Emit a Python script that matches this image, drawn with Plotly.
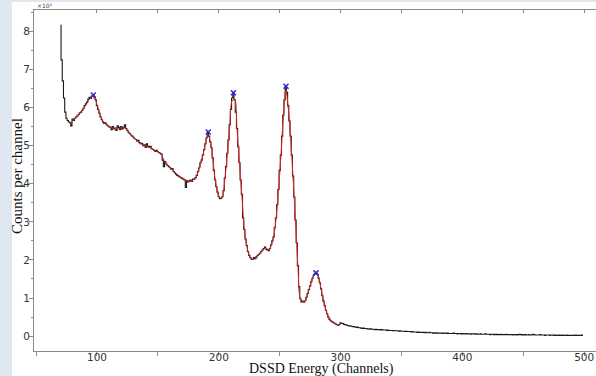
import plotly.graph_objects as go

# ---------------- data (counts per channel, in units of 10^2) ----------------
first_channel = 70
counts = [
    # 70-79
    8.16, 7.25, 6.70, 6.25, 5.88, 5.72, 5.66, 5.62, 5.60, 5.52,
    # 80-89
    5.70, 5.66, 5.72, 5.75, 5.78, 5.82, 5.86, 5.88, 5.93, 5.98,
    # 90-99
    6.05, 6.10, 6.15, 6.22, 6.27, 6.24, 6.30, 6.33, 6.26, 6.20,
    # 100-109
    6.05, 5.95, 5.85, 5.75, 5.68, 5.62, 5.58, 5.60, 5.55, 5.52,
    # 110-119
    5.50, 5.48, 5.42, 5.50, 5.44, 5.46, 5.40, 5.52, 5.48, 5.42,
    # 120-129
    5.50, 5.44, 5.48, 5.55, 5.45, 5.40, 5.35, 5.32, 5.28, 5.25,
    # 130-139
    5.22, 5.18, 5.16, 5.12, 5.14, 5.08, 5.05, 5.06, 5.00, 5.02,
    # 140-149
    4.95, 5.05, 4.98, 4.96, 4.98, 4.92, 4.90, 4.88, 4.85, 4.88,
    # 150-159
    4.84, 4.82, 4.80, 4.78, 4.62, 4.45, 4.58, 4.52, 4.48, 4.45,
    # 160-169
    4.42, 4.38, 4.40, 4.32, 4.28, 4.25, 4.22, 4.20, 4.18, 4.16,
    # 170-179
    4.14, 4.12, 4.10, 3.90, 4.08, 4.05, 4.08, 4.10, 4.06, 4.12,
    # 180-189
    4.12, 4.16, 4.22, 4.32, 4.42, 4.55, 4.62, 4.75, 4.90, 5.05,
    # 190-199
    5.20, 5.36, 5.25, 5.10, 4.95, 4.68, 4.35, 4.10, 3.92, 3.78,
    # 200-209
    3.66, 3.61, 3.62, 3.66, 3.82, 4.15, 4.45, 4.80, 5.15, 5.55,
    # 210-219
    5.95, 6.25, 6.39, 6.20, 5.88, 5.45, 4.97, 4.55, 4.10, 3.72,
    # 220-229
    3.10, 2.80, 2.55, 2.38, 2.22, 2.12, 2.06, 2.02, 2.01, 2.06,
    # 230-239
    2.03, 2.08, 2.12, 2.15, 2.18, 2.22, 2.26, 2.30, 2.34, 2.28,
    # 240-249
    2.26, 2.24, 2.30, 2.40, 2.50, 2.60, 2.85, 3.10, 3.45, 3.85,
    # 250-259
    4.35, 4.75, 5.25, 5.80, 6.20, 6.56, 6.40, 6.05, 5.65, 5.25,
    # 260-269
    4.75, 4.20, 3.65, 3.05, 2.45, 1.85, 1.30, 0.98, 0.90, 0.92,
    # 270-279
    0.89, 0.93, 1.02, 1.12, 1.22, 1.32, 1.43, 1.52, 1.60, 1.64,
    # 280-289
    1.66, 1.62, 1.52, 1.40, 1.24, 1.06, 0.92, 0.80, 0.68, 0.58,
    # 290-299
    0.50, 0.44, 0.40, 0.38, 0.36, 0.34, 0.32, 0.30, 0.29, 0.30,
    # 300-309
    0.35, 0.34, 0.33, 0.31, 0.30, 0.29, 0.28, 0.27, 0.27, 0.26,
    # 310-319
    0.25, 0.25, 0.24, 0.23, 0.24, 0.22, 0.22, 0.21, 0.20, 0.21,
    # 320-329
    0.20, 0.20, 0.19, 0.19, 0.18, 0.19, 0.18, 0.18, 0.17, 0.18,
    # 330-339
    0.17, 0.17, 0.17, 0.16, 0.17, 0.16, 0.16, 0.16, 0.15, 0.16,
    # 340-349
    0.15, 0.15, 0.15, 0.14, 0.15, 0.14, 0.14, 0.14, 0.13, 0.14,
    # 350-359
    0.13, 0.13, 0.13, 0.12, 0.13, 0.12, 0.12, 0.12, 0.11, 0.12,
    # 360-369
    0.11, 0.11, 0.11, 0.10, 0.11, 0.10, 0.10, 0.10, 0.10, 0.09,
    # 370-379
    0.10, 0.09, 0.09, 0.10, 0.09, 0.09, 0.08, 0.09, 0.08, 0.09,
    # 380-389
    0.08, 0.08, 0.08, 0.08, 0.07, 0.08, 0.08, 0.07, 0.08, 0.07,
    # 390-399
    0.07, 0.07, 0.07, 0.08, 0.07, 0.07, 0.06, 0.07, 0.07, 0.06,
    # 400-409
    0.07, 0.06, 0.06, 0.07, 0.06, 0.06, 0.06, 0.05, 0.06, 0.06,
    # 410-419
    0.06, 0.05, 0.06, 0.05, 0.05, 0.06, 0.05, 0.05, 0.05, 0.06,
    # 420-429
    0.05, 0.05, 0.05, 0.04, 0.05, 0.05, 0.04, 0.05, 0.04, 0.05,
    # 430-439
    0.04, 0.04, 0.05, 0.04, 0.04, 0.04, 0.05, 0.04, 0.04, 0.04,
    # 440-449
    0.04, 0.04, 0.03, 0.04, 0.04, 0.03, 0.04, 0.05, 0.04, 0.03,
    # 450-459
    0.04, 0.03, 0.04, 0.03, 0.03, 0.04, 0.03, 0.03, 0.05, 0.04,
    # 460-469
    0.03, 0.03, 0.03, 0.03, 0.04, 0.03, 0.03, 0.03, 0.02, 0.03,
    # 470-479
    0.03, 0.03, 0.02, 0.03, 0.03, 0.02, 0.03, 0.02, 0.02, 0.03,
    # 480-489
    0.02, 0.02, 0.03, 0.02, 0.02, 0.02, 0.03, 0.02, 0.02, 0.02,
    # 490-499
    0.02, 0.02, 0.02, 0.03, 0.02, 0.02, 0.02, 0.02, 0.03, 0.02,
]
channels = [first_channel + i for i in range(len(counts))]

# fit curve, sampled every 2 channels from 79 to 299
fit_start = 79
fit_step = 2
fit_values = [
    5.62, 5.68, 5.75, 5.82, 5.89, 5.97, 6.07, 6.18, 6.27, 6.30,   # 79-97
    6.18, 5.98, 5.78, 5.64, 5.57, 5.52, 5.48, 5.46, 5.45, 5.45,   # 99-117
    5.46, 5.47, 5.46, 5.40, 5.32, 5.25, 5.18, 5.12, 5.07, 5.03,   # 119-137
    5.00, 4.97, 4.95, 4.92, 4.88, 4.85, 4.82, 4.75, 4.62, 4.52,   # 139-157
    4.45, 4.39, 4.33, 4.27, 4.21, 4.17, 4.13, 4.10, 4.07, 4.07,   # 159-177
    4.10, 4.16, 4.30, 4.52, 4.76, 5.04, 5.28, 5.12, 4.68, 4.12,   # 179-197
    3.78, 3.62, 3.68, 4.12, 4.78, 5.52, 6.18, 6.22, 5.42, 4.52,   # 199-217
    3.68, 2.80, 2.38, 2.12, 2.03, 2.03, 2.08, 2.15, 2.22, 2.29,   # 219-237
    2.30, 2.27, 2.38, 2.60, 3.08, 3.82, 4.72, 5.75, 6.45, 6.00,   # 239-257
    5.20, 4.15, 3.02, 1.82, 0.98, 0.91, 0.92, 1.12, 1.32, 1.52,   # 259-277
    1.63, 1.62, 1.40, 1.07, 0.80, 0.58, 0.45, 0.38, 0.34, 0.31,   # 279-297
    0.30,                                                          # 299
]
fit_channels = [fit_start + fit_step * i for i in range(len(fit_values))]

# fitted peak positions
peak_channels = [97, 191.4, 212, 255.2, 279.8]
peak_values = [6.33, 5.36, 6.39, 6.56, 1.66]

x_ticks = [100, 200, 300, 400, 500]
y_ticks = [0, 1, 2, 3, 4, 5, 6, 7, 8]

x_title = "DSSD Energy (Channels)"
y_title = "Counts per channel"
scale_label = "×10²"

# ---------------- figure ----------------
W, H = 596, 376
ml, mr, mt, mb = 34, 0, 10, 25
pw, ph = W - ml - mr, H - mt - mb

def px_x(p):
    return (p - ml) / pw

def px_y(p):
    return (H - mb - p) / ph

fig = go.Figure()

fig.add_trace(go.Scatter(
    x=channels, y=counts, mode="lines", line_shape="hvh",
    line=dict(color="#1a1a1a", width=1.1), showlegend=False, hoverinfo="skip",
))
fig.add_trace(go.Scatter(
    x=fit_channels, y=fit_values, mode="lines", line_shape="spline",
    line=dict(color="#e3261e", width=1.0), showlegend=False, hoverinfo="skip",
))
fig.add_trace(go.Scatter(
    x=peak_channels, y=peak_values, mode="markers",
    marker=dict(symbol="x-thin-open", size=5, color="#2b2bd6",
                line=dict(color="#2b2bd6", width=1.5)),
    showlegend=False, hoverinfo="skip",
))
# invisible trace on top axis to show top ticks
fig.add_trace(go.Scatter(x=[100], y=[0], xaxis="x2", mode="markers",
                         marker=dict(opacity=0), showlegend=False, hoverinfo="skip"))

axis_col = "#8a8a8a"
tick_font = dict(family="DejaVu Sans", size=10.5, color="#333333")

fig.update_layout(
    width=W, height=H,
    margin=dict(l=ml, r=mr, t=mt, b=mb, pad=0),
    paper_bgcolor="#dfe7f1",
    plot_bgcolor="white",
    xaxis=dict(
        range=[48.3, 509.7], tickvals=x_ticks, ticktext=[str(v) for v in x_ticks],
        ticks="outside", ticklen=4, tickcolor=axis_col, tickwidth=1,
        minor=dict(dtick=50, tick0=0, ticks="outside", ticklen=4, tickcolor=axis_col),
        showline=True, linecolor=axis_col, linewidth=1,
        showgrid=False, zeroline=False, tickfont=tick_font,
        ticklabelstandoff=-8,
    ),
    xaxis2=dict(
        overlaying="x", matches="x", side="top", range=[48.3, 509.7],
        tickvals=[100, 150, 200, 250, 300, 350, 400, 450, 500],
        ticks="inside", ticklen=3, tickcolor=axis_col,
        showticklabels=False, showline=True, linecolor=axis_col, linewidth=1,
        showgrid=False, zeroline=False,
    ),
    yaxis=dict(
        range=[-0.39, 8.56], tickvals=y_ticks, ticktext=[str(v) for v in y_ticks],
        ticks="outside", ticklen=4, tickcolor=axis_col, tickwidth=1,
        minor=dict(dtick=0.5, tick0=0, ticks="outside", ticklen=2, tickcolor=axis_col),
        showline=True, linecolor=axis_col, linewidth=1,
        showgrid=False, zeroline=False, tickfont=tick_font,
        ticklabelstandoff=-3,
    ),
    shapes=[dict(
        type="rect", xref="paper", yref="paper", layer="below",
        x0=px_x(12), x1=1.0, y0=px_y(H), y1=px_y(2),
        fillcolor="white", line=dict(width=0),
    )],
    annotations=[
        dict(text=x_title, xref="paper", yref="paper", x=px_x(321), y=px_y(369.3),
             xanchor="center", yanchor="middle", showarrow=False,
             font=dict(family="Liberation Serif", size=14, color="#111111")),
        dict(text=y_title, xref="paper", yref="paper", x=px_x(17), y=px_y(176),
             xanchor="center", yanchor="middle", textangle=-90, showarrow=False,
             font=dict(family="Liberation Serif", size=15, color="#111111")),
        dict(text=scale_label, xref="paper", yref="paper", x=px_x(35), y=px_y(5),
             xanchor="left", yanchor="middle", showarrow=False,
             font=dict(family="DejaVu Sans", size=6, color="#444444")),
    ],
)

fig.write_html(
    "out.html",
    config={"displayModeBar": False},
    post_script="document.body.style.margin='0';document.body.style.overflow='hidden';",
)
